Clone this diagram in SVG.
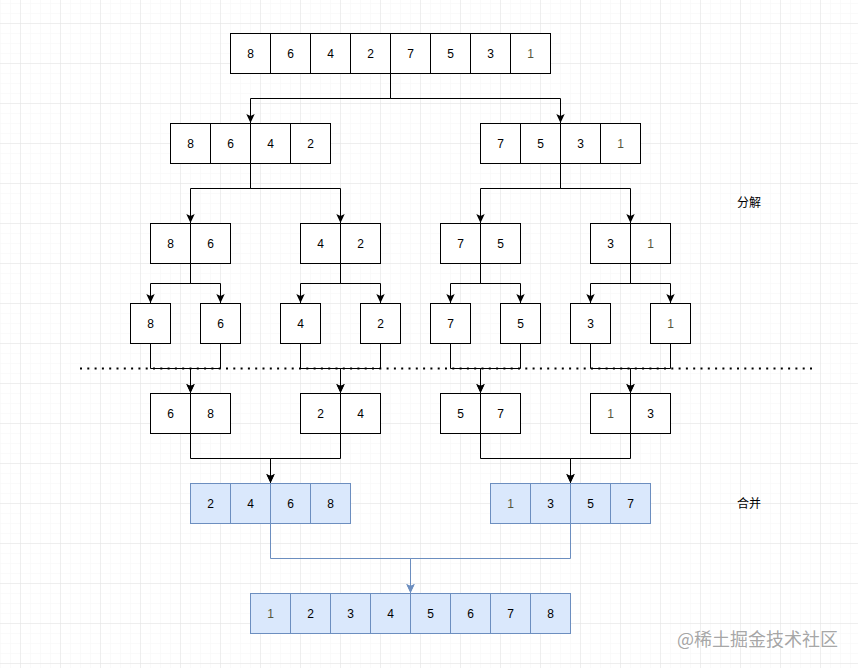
<svg xmlns="http://www.w3.org/2000/svg" width="858" height="668" viewBox="0 0 858 668">
<style>
.c{fill:#ffffff;stroke:#000000;stroke-width:1}
.b{fill:#dae8fc;stroke:#6c8ebf;stroke-width:1}
.t{font-family:"Liberation Sans",Arial,sans-serif;font-size:12px;fill:#000000;text-anchor:middle}
.one{fill:#55573a}
.e{fill:none;stroke:#000000;stroke-width:1;marker-end:url(#ah)}
.eb{fill:none;stroke:#6c8ebf;stroke-width:1;marker-end:url(#ahb)}
.lbl{font-family:"Liberation Sans","Noto Sans CJK SC",sans-serif;font-size:12px;fill:#000000;text-anchor:middle}
</style>
<defs>
<pattern id="minor" patternUnits="userSpaceOnUse" x="20" y="23" width="10" height="10">
<path d="M10 0 L0 0 0 10" fill="none" stroke="#f6f6f6" stroke-width="1"/>
</pattern>
<pattern id="major" patternUnits="userSpaceOnUse" x="20" y="23" width="40" height="40">
<path d="M40 0 L0 0 0 40" fill="none" stroke="#e2e2e2" stroke-width="1"/>
</pattern>
<marker id="ah" markerUnits="userSpaceOnUse" viewBox="0 0 10 10" refX="10" refY="5" markerWidth="10" markerHeight="10" orient="auto">
<path d="M1,0.8 L10,5 L1,9.2 L3,5 Z" fill="#000000"/>
</marker>
<marker id="ahb" markerUnits="userSpaceOnUse" viewBox="0 0 10 10" refX="10" refY="5" markerWidth="10" markerHeight="10" orient="auto">
<path d="M1,0.8 L10,5 L1,9.2 L3,5 Z" fill="#6c8ebf"/>
</marker>
</defs>
<rect x="0" y="0" width="858" height="668" fill="#ffffff"/>
<rect x="0" y="0" width="858" height="668" fill="url(#minor)"/>
<rect x="0" y="0" width="858" height="668" fill="url(#major)"/>

<g id="connectors">
<path class="e" d="M390.5,73 V98.5 H250.5 V123"/>
<path class="e" d="M390.5,73 V98.5 H560.5 V123"/>
<path class="e" d="M250.5,163 V188.5 H190.5 V223"/>
<path class="e" d="M250.5,163 V188.5 H340.5 V223"/>
<path class="e" d="M560.5,163 V188.5 H480.5 V223"/>
<path class="e" d="M560.5,163 V188.5 H630.5 V223"/>
<path class="e" d="M190.5,263 V283.5 H150.5 V303"/>
<path class="e" d="M190.5,263 V283.5 H220.5 V303"/>
<path class="e" d="M340.5,263 V283.5 H300.5 V303"/>
<path class="e" d="M340.5,263 V283.5 H380.5 V303"/>
<path class="e" d="M480.5,263 V283.5 H450.5 V303"/>
<path class="e" d="M480.5,263 V283.5 H520.5 V303"/>
<path class="e" d="M630.5,263 V283.5 H590.5 V303"/>
<path class="e" d="M630.5,263 V283.5 H670.5 V303"/>
<path class="e" d="M150.5,343 V368.5 H190.5 V393"/>
<path class="e" d="M220.5,343 V368.5 H190.5 V393"/>
<path class="e" d="M300.5,343 V368.5 H340.5 V393"/>
<path class="e" d="M380.5,343 V368.5 H340.5 V393"/>
<path class="e" d="M450.5,343 V368.5 H480.5 V393"/>
<path class="e" d="M520.5,343 V368.5 H480.5 V393"/>
<path class="e" d="M590.5,343 V368.5 H630.5 V393"/>
<path class="e" d="M670.5,343 V368.5 H630.5 V393"/>
<path class="e" d="M190.5,433 V458.5 H270.5 V483"/>
<path class="e" d="M340.5,433 V458.5 H270.5 V483"/>
<path class="e" d="M480.5,433 V458.5 H570.5 V483"/>
<path class="e" d="M630.5,433 V458.5 H570.5 V483"/>
<path class="eb" d="M270.5,523 V558.5 H410.5 V593"/>
<path class="eb" d="M570.5,523 V558.5 H410.5 V593"/>
</g>

<g id="divider">
<path d="M80,368.5 H812" fill="none" stroke="#000000" stroke-width="2" stroke-dasharray="2 5.3"/>
</g>

<g id="n-root">
<rect class="c" x="230.5" y="33.5" width="40" height="40"/><rect class="c" x="270.5" y="33.5" width="40" height="40"/><rect class="c" x="310.5" y="33.5" width="40" height="40"/><rect class="c" x="350.5" y="33.5" width="40" height="40"/><rect class="c" x="390.5" y="33.5" width="40" height="40"/><rect class="c" x="430.5" y="33.5" width="40" height="40"/><rect class="c" x="470.5" y="33.5" width="40" height="40"/><rect class="c" x="510.5" y="33.5" width="40" height="40"/>
<text class="t" x="250.5" y="57.5">8</text><text class="t" x="290.5" y="57.5">6</text><text class="t" x="330.5" y="57.5">4</text><text class="t" x="370.5" y="57.5">2</text><text class="t" x="410.5" y="57.5">7</text><text class="t" x="450.5" y="57.5">5</text><text class="t" x="490.5" y="57.5">3</text><text class="t one" x="530.5" y="57.5">1</text>
</g>

<g id="n-l4">
<rect class="c" x="170.5" y="123.5" width="40" height="40"/><rect class="c" x="210.5" y="123.5" width="40" height="40"/><rect class="c" x="250.5" y="123.5" width="40" height="40"/><rect class="c" x="290.5" y="123.5" width="40" height="40"/>
<text class="t" x="190.5" y="147.5">8</text><text class="t" x="230.5" y="147.5">6</text><text class="t" x="270.5" y="147.5">4</text><text class="t" x="310.5" y="147.5">2</text>
</g>
<g id="n-r4">
<rect class="c" x="480.5" y="123.5" width="40" height="40"/><rect class="c" x="520.5" y="123.5" width="40" height="40"/><rect class="c" x="560.5" y="123.5" width="40" height="40"/><rect class="c" x="600.5" y="123.5" width="40" height="40"/>
<text class="t" x="500.5" y="147.5">7</text><text class="t" x="540.5" y="147.5">5</text><text class="t" x="580.5" y="147.5">3</text><text class="t one" x="620.5" y="147.5">1</text>
</g>

<g id="n-86">
<rect class="c" x="150.5" y="223.5" width="40" height="40"/><rect class="c" x="190.5" y="223.5" width="40" height="40"/>
<text class="t" x="170.5" y="247.5">8</text><text class="t" x="210.5" y="247.5">6</text>
</g>
<g id="n-42">
<rect class="c" x="300.5" y="223.5" width="40" height="40"/><rect class="c" x="340.5" y="223.5" width="40" height="40"/>
<text class="t" x="320.5" y="247.5">4</text><text class="t" x="360.5" y="247.5">2</text>
</g>
<g id="n-75">
<rect class="c" x="440.5" y="223.5" width="40" height="40"/><rect class="c" x="480.5" y="223.5" width="40" height="40"/>
<text class="t" x="460.5" y="247.5">7</text><text class="t" x="500.5" y="247.5">5</text>
</g>
<g id="n-31">
<rect class="c" x="590.5" y="223.5" width="40" height="40"/><rect class="c" x="630.5" y="223.5" width="40" height="40"/>
<text class="t" x="610.5" y="247.5">3</text><text class="t one" x="650.5" y="247.5">1</text>
</g>

<g id="n-s8"><rect class="c" x="130.5" y="303.5" width="40" height="40"/><text class="t" x="150.5" y="327.5">8</text></g>
<g id="n-s6"><rect class="c" x="200.5" y="303.5" width="40" height="40"/><text class="t" x="220.5" y="327.5">6</text></g>
<g id="n-s4"><rect class="c" x="280.5" y="303.5" width="40" height="40"/><text class="t" x="300.5" y="327.5">4</text></g>
<g id="n-s2"><rect class="c" x="360.5" y="303.5" width="40" height="40"/><text class="t" x="380.5" y="327.5">2</text></g>
<g id="n-s7"><rect class="c" x="430.5" y="303.5" width="40" height="40"/><text class="t" x="450.5" y="327.5">7</text></g>
<g id="n-s5"><rect class="c" x="500.5" y="303.5" width="40" height="40"/><text class="t" x="520.5" y="327.5">5</text></g>
<g id="n-s3"><rect class="c" x="570.5" y="303.5" width="40" height="40"/><text class="t" x="590.5" y="327.5">3</text></g>
<g id="n-s1"><rect class="c" x="650.5" y="303.5" width="40" height="40"/><text class="t one" x="670.5" y="327.5">1</text></g>

<g id="n-68">
<rect class="c" x="150.5" y="393.5" width="40" height="40"/><rect class="c" x="190.5" y="393.5" width="40" height="40"/>
<text class="t" x="170.5" y="417.5">6</text><text class="t" x="210.5" y="417.5">8</text>
</g>
<g id="n-24">
<rect class="c" x="300.5" y="393.5" width="40" height="40"/><rect class="c" x="340.5" y="393.5" width="40" height="40"/>
<text class="t" x="320.5" y="417.5">2</text><text class="t" x="360.5" y="417.5">4</text>
</g>
<g id="n-57">
<rect class="c" x="440.5" y="393.5" width="40" height="40"/><rect class="c" x="480.5" y="393.5" width="40" height="40"/>
<text class="t" x="460.5" y="417.5">5</text><text class="t" x="500.5" y="417.5">7</text>
</g>
<g id="n-13">
<rect class="c" x="590.5" y="393.5" width="40" height="40"/><rect class="c" x="630.5" y="393.5" width="40" height="40"/>
<text class="t one" x="610.5" y="417.5">1</text><text class="t" x="650.5" y="417.5">3</text>
</g>

<g id="n-2468">
<rect class="b" x="190.5" y="483.5" width="40" height="40"/><rect class="b" x="230.5" y="483.5" width="40" height="40"/><rect class="b" x="270.5" y="483.5" width="40" height="40"/><rect class="b" x="310.5" y="483.5" width="40" height="40"/>
<text class="t" x="210.5" y="507.5">2</text><text class="t" x="250.5" y="507.5">4</text><text class="t" x="290.5" y="507.5">6</text><text class="t" x="330.5" y="507.5">8</text>
</g>
<g id="n-1357">
<rect class="b" x="490.5" y="483.5" width="40" height="40"/><rect class="b" x="530.5" y="483.5" width="40" height="40"/><rect class="b" x="570.5" y="483.5" width="40" height="40"/><rect class="b" x="610.5" y="483.5" width="40" height="40"/>
<text class="t one" x="510.5" y="507.5">1</text><text class="t" x="550.5" y="507.5">3</text><text class="t" x="590.5" y="507.5">5</text><text class="t" x="630.5" y="507.5">7</text>
</g>

<g id="n-sorted">
<rect class="b" x="250.5" y="593.5" width="40" height="40"/><rect class="b" x="290.5" y="593.5" width="40" height="40"/><rect class="b" x="330.5" y="593.5" width="40" height="40"/><rect class="b" x="370.5" y="593.5" width="40" height="40"/><rect class="b" x="410.5" y="593.5" width="40" height="40"/><rect class="b" x="450.5" y="593.5" width="40" height="40"/><rect class="b" x="490.5" y="593.5" width="40" height="40"/><rect class="b" x="530.5" y="593.5" width="40" height="40"/>
<text class="t one" x="270.5" y="617.5">1</text><text class="t" x="310.5" y="617.5">2</text><text class="t" x="350.5" y="617.5">3</text><text class="t" x="390.5" y="617.5">4</text><text class="t" x="430.5" y="617.5">5</text><text class="t" x="470.5" y="617.5">6</text><text class="t" x="510.5" y="617.5">7</text><text class="t" x="550.5" y="617.5">8</text>
</g>

<g id="label-split"><text class="lbl" x="749" y="207">分解</text></g>
<g id="label-merge"><text class="lbl" x="749" y="507.5">合并</text></g>

<g id="watermark"><text x="677" y="645.5" font-family="'Noto Sans CJK SC',sans-serif" font-size="18" fill="#9b9b9b" fill-opacity="0.9">@稀土掘金技术社区</text></g>
</svg>
